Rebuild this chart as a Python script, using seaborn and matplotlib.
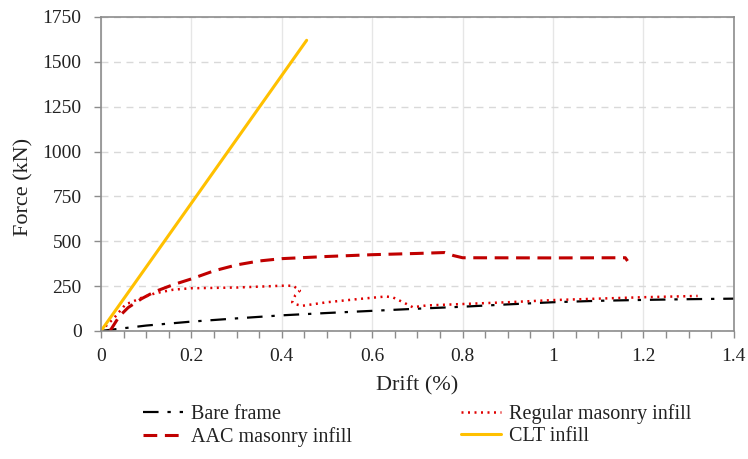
import numpy as np
import pandas as pd
import matplotlib
matplotlib.use("Agg")
import matplotlib.pyplot as plt
import seaborn as sns
from matplotlib.ticker import MultipleLocator

bare_drift = [0, 0.05, 0.1, 0.2, 0.3, 0.4, 0.5, 0.6, 0.7, 0.8, 0.9, 1.0, 1.1, 1.2, 1.3, 1.4]
bare_force = [0, 15, 30, 52, 70, 87, 100, 112, 124, 135, 148, 160, 168, 173, 177, 180]

reg_drift = [0, 0.03, 0.055, 0.065, 0.09, 0.12, 0.16, 0.2, 0.3, 0.4, 0.425, 0.44, 0.43,
             0.423, 0.428, 0.445, 0.5, 0.57, 0.63, 0.645, 0.67, 0.69, 0.72, 0.8, 0.9,
             1.0, 1.1, 1.2, 1.32]
reg_force = [0, 75, 150, 158, 185, 210, 230, 238, 242, 252, 252, 225, 200,
             160, 150, 140, 160, 178, 192, 188, 158, 132, 142, 150, 160,
             172, 180, 188, 195]

aac_drift = [0.02, 0.04, 0.06, 0.09, 0.12, 0.16, 0.2, 0.25, 0.3, 0.35, 0.4, 0.5, 0.6,
             0.7, 0.76, 0.78, 0.8, 1.0, 1.16, 1.165]
aac_force = [0, 80, 130, 180, 220, 258, 290, 335, 368, 390, 403, 415, 425,
             432, 437, 420, 408, 407, 408, 390]

clt_drift = [0, 0.455]
clt_force = [0, 1620]

x_ticks = [0, 0.2, 0.4, 0.6, 0.8, 1.0, 1.2, 1.4]
x_tick_labels = ['0', '0.2', '0.4', '0.6', '0.8', '1', '1.2', '1.4']

sns.set_theme(style="white")
plt.rcParams['font.family'] = ['Liberation Serif', 'DejaVu Serif']

fig = plt.figure(figsize=(7.48, 4.59), dpi=100)
ax = fig.add_axes([0.135, 0.279, 0.846, 0.684])


def curve(x, y):
    return pd.DataFrame({'drift': x, 'force': y})


sns.lineplot(data=curve(bare_drift, bare_force), x='drift', y='force', ax=ax, sort=False,
             estimator=None, color='black', lw=1.6, linestyle=(0, (7, 4, 1.5, 4)),
             label='Bare frame')
sns.lineplot(data=curve(aac_drift, aac_force), x='drift', y='force', ax=ax, sort=False,
             estimator=None, color='#C00000', lw=2.2, linestyle=(0, (4.5, 2.5)),
             label='AAC masonry infill')
sns.lineplot(data=curve(reg_drift, reg_force), x='drift', y='force', ax=ax, sort=False,
             estimator=None, color='#E00000', lw=1.8, linestyle=(0, (0.8, 1.8)),
             label='Regular masonry infill')
sns.lineplot(data=curve(clt_drift, clt_force), x='drift', y='force', ax=ax, sort=False,
             estimator=None, color='#FFC000', lw=2.2, label='CLT infill')

ax.set_xlim(0, 1.4)
ax.set_ylim(0, 1750)
ax.set_xticks(x_ticks)
ax.set_xticklabels(x_tick_labels)
ax.xaxis.set_minor_locator(MultipleLocator(0.05))
ax.yaxis.set_major_locator(MultipleLocator(250))

ax.grid(axis='y', which='major', color='#d9d9d9', linestyle=(0, (5, 4)), lw=1)
ax.grid(axis='x', which='major', color='#e6e6e6', linestyle='-', lw=1)
ax.set_axisbelow(True)

for s in ax.spines.values():
    s.set_color('#8c8c8c')
    s.set_linewidth(1.2)

ax.tick_params(axis='both', which='major', direction='out', length=5, width=1,
               color='#8c8c8c', labelsize=14, labelcolor='#222222', bottom=True, left=True)
ax.tick_params(axis='x', which='both', pad=7)
ax.tick_params(axis='y', which='major', pad=9)
ax.tick_params(axis='x', which='minor', direction='out', length=5, width=1,
               color='#8c8c8c', bottom=True)

ax.set_xlabel('Drift (%)', fontsize=16, color='#222222')
ax.set_ylabel('Force (kN)', fontsize=16, color='#222222')
ax.xaxis.set_label_coords(0.5, -0.145)
ax.yaxis.set_label_coords(-0.107, 0.46)

handles, labels = ax.get_legend_handles_labels()
ax.get_legend().remove()
fig.legend(handles, labels, ncol=2, loc='upper left', bbox_to_anchor=(0.18, 0.137),
           borderaxespad=0, frameon=False, fontsize=14.5, handlelength=2.0,
           handletextpad=0.4, columnspacing=5.4, labelspacing=0.15,
           labelcolor='#222222')

fig.savefig('out.png', dpi=100)
